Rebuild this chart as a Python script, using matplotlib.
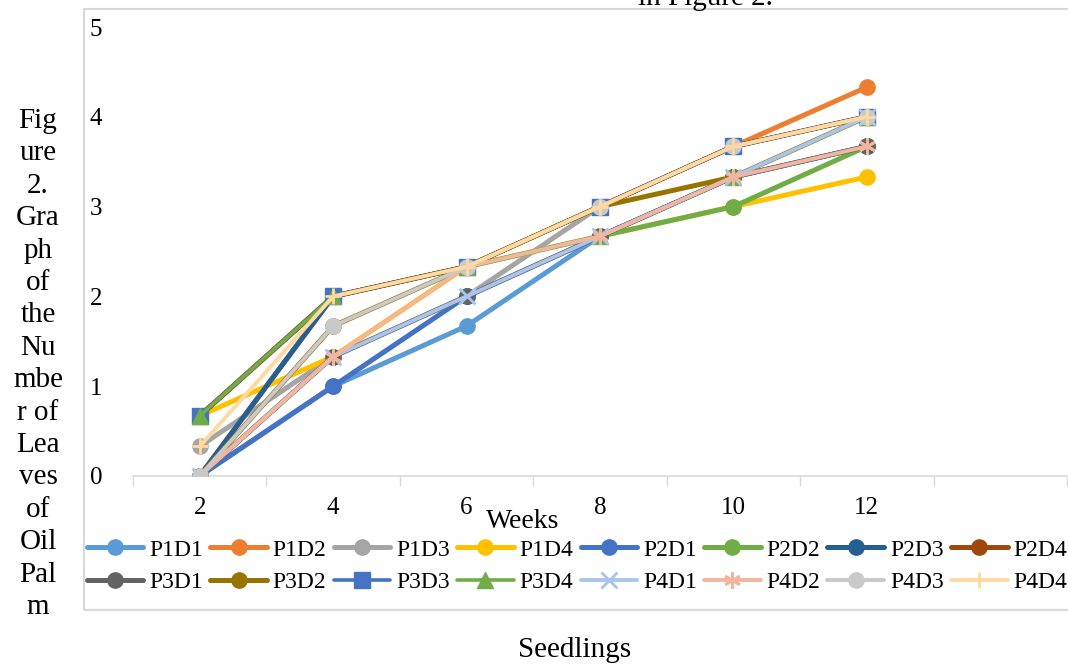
import matplotlib
matplotlib.use("Agg")
import matplotlib.pyplot as plt
from matplotlib.patches import Rectangle

plt.rcParams['font.family'] = ['Liberation Serif', 'DejaVu Serif']

weeks = ["2", "4", "6", "8", "10", "12", ""]

names = ["P1D1", "P1D2", "P1D3", "P1D4", "P2D1", "P2D2", "P2D3", "P2D4",
         "P3D1", "P3D2", "P3D3", "P3D4", "P4D1", "P4D2", "P4D3", "P4D4"]

# leaves per seedling at each week (2..12)
p1d1 = [0, 1, 1.67, 2.67, 3.33, 3.67]
p1d2 = [0, 2, 2.33, 3, 3.67, 4.33]
p1d3 = [0.33, 1.33, 2, 3, 3.67, 4]
p1d4 = [0.67, 1.33, 2.33, 2.67, 3, 3.33]
p2d1 = [0, 1, 2, 2.67, 3.33, 3.67]
p2d2 = [0.67, 2, 2.33, 2.67, 3, 3.67]
p2d3 = [0, 2, 2.33, 3, 3.67, 4]
p2d4 = [0.67, 2, 2.33, 3, 3.67, 4]
p3d1 = [0, 1.33, 2, 2.67, 3.33, 3.67]
p3d2 = [0, 1.67, 2.33, 3, 3.33, 4]
p3d3 = [0.67, 2, 2.33, 3, 3.67, 4]
p3d4 = [0.67, 2, 2.33, 2.67, 3.33, 4]
p4d1 = [0, 1.33, 2, 2.67, 3.33, 4]
p4d2 = [0, 1.33, 2.33, 2.67, 3.33, 3.67]
p4d3 = [0, 1.67, 2.33, 3, 3.67, 4]
p4d4 = [0.33, 2, 2.33, 3, 3.67, 4]

series = [p1d1, p1d2, p1d3, p1d4, p2d1, p2d2, p2d3, p2d4,
          p3d1, p3d2, p3d3, p3d4, p4d1, p4d2, p4d3, p4d4]

colors = ["#5B9BD5", "#ED7D31", "#A5A5A5", "#FFC000", "#4472C4", "#70AD47",
          "#255E91", "#9E480E", "#636363", "#997300", "#4472C4", "#70AD47",
          "#A9C5EB", "#F4B59F", "#C9C9C9", "#FFD9A0"]
markers = ["o"] * 10 + ["s", "^", "x", (6, 2, 0), "o", "+"]
widths = [3.6] * 10 + [2.6, 2.6, 2.8, 2.8, 2.8, 2.8]

fig = plt.figure(figsize=(10.68, 6.64), dpi=100)
ax = fig.add_axes([133 / 1068, 1 - 476 / 664, 934 / 1068, 449 / 664])

x = list(range(6))
handles = []
for i, s in enumerate(series):
    m = markers[i]
    filled = m in ("o", "s", "^")
    h, = ax.plot(x, s, color=colors[i], lw=widths[i], marker=m,
                 ms=11 if filled else 12, mew=1 if filled else 2,
                 mec=colors[i], label=names[i], zorder=2 + i,
                 solid_capstyle="round")
    handles.append(h)

ax.set_xlim(-0.5, 6.5)
ax.set_ylim(0, 5)
ax.set_yticks([0, 1, 2, 3, 4, 5])
ax.set_xticks(range(7))
ax.set_xticklabels(weeks)
ax.set_xticks([k + 0.5 for k in range(-1, 7)], minor=True)
ax.tick_params(axis="x", which="major", length=0, pad=15, labelsize=18)
ax.tick_params(axis="x", which="minor", length=7, width=1, color="#D9D9D9", direction="out")
ax.tick_params(axis="y", length=0, pad=22, labelsize=18)
for sp in ["top", "right", "left"]:
    ax.spines[sp].set_visible(False)
ax.spines["bottom"].set_color("#D9D9D9")
ax.spines["bottom"].set_linewidth(1.2)
ax.patch.set_alpha(0)

fig.text(523 / 1068, 1 - 522 / 664, "Weeks", ha="center", va="center", fontsize=20)

# legend row-wise: reorder for column-major fill
order = []
for k in range(8):
    order += [k, k + 8]
leg = fig.legend([handles[k] for k in order], [names[k] for k in order],
                 ncol=8, loc="center", bbox_to_anchor=(577 / 1068, 1 - 566 / 664),
                 frameon=False, fontsize=17, handlelength=2.4, handletextpad=0.25,
                 columnspacing=0.3, labelspacing=0.45, borderpad=0)

# chart frame
fig.patches.append(Rectangle((84 / 1068, 1 - 610 / 664), 1.0, 601 / 664,
                             transform=fig.transFigure, fill=False,
                             edgecolor="#D9D9D9", lw=1.5))

# surrounding document text
caption = "Fig\nure\n2.\nGra\nph\nof\nthe\nNu\nmbe\nr of\nLea\nves\nof\nOil\nPal\nm"
fig.text(38 / 1068, 1 - 364 / 664, caption, ha="center", va="center",
         fontsize=21, linespacing=1.32)
fig.text(705 / 1068, 1 - 5 / 664, "in Figure 2.", ha="center", va="baseline", fontsize=21)
fig.text(575 / 1068, 1 - 650 / 664, "Seedlings", ha="center", va="center", fontsize=21)

fig.savefig("out.png", dpi=100)
